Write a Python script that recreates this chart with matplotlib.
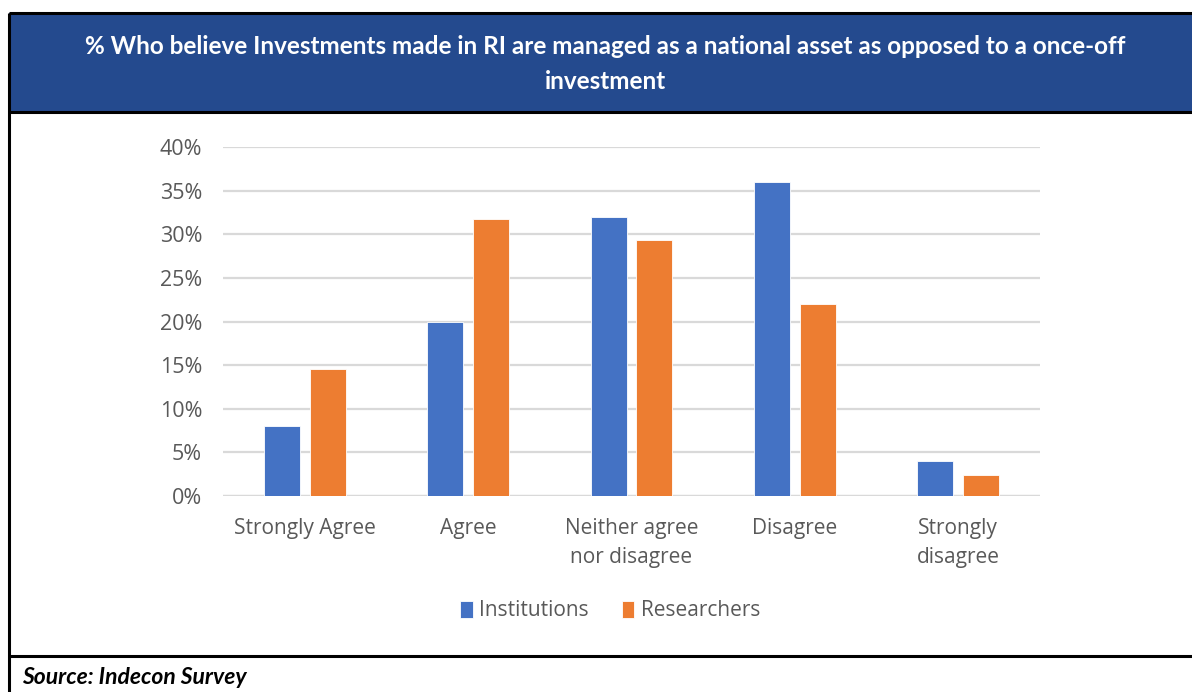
import matplotlib
matplotlib.use("Agg")
import matplotlib.pyplot as plt
import numpy as np
from matplotlib.patches import Rectangle
from matplotlib.lines import Line2D

categories = ["Strongly Agree", "Agree", "Neither agree\nnor disagree", "Disagree", "Strongly\ndisagree"]
institutions = [8.0, 20.0, 32.0, 36.0, 4.0]
researchers = [14.6, 31.7, 29.3, 22.0, 2.4]
series_names = ["Institutions", "Researchers"]
yticks = [0, 5, 10, 15, 20, 25, 30, 35, 40]
title = "% Who believe Investments made in RI are managed as a national asset as opposed to a once-off\ninvestment"
source = "Source: Indecon Survey"

BLUE = "#4472C4"
ORANGE = "#ED7D31"
HEADER = "#244A8E"
TXT = "#595959"

W, H = 1192, 692
fig = plt.figure(figsize=(W / 100, H / 100), dpi=100)

def fx(x): return x / W
def fy(y): return 1 - y / H

# header box
fig.patches.append(Rectangle((fx(9), fy(112)), 1 - fx(9), fy(13) - fy(112),
                             transform=fig.transFigure, facecolor=HEADER, edgecolor="none", zorder=0))
# frame lines
for (x0, y0, x1, y1) in [(9, 13, W, 13), (9, 112, W, 112), (9, 656, W, 656), (9, 13, 9, H)]:
    fig.lines.append(Line2D([fx(x0), fx(x1)], [fy(y0), fy(y1)], transform=fig.transFigure,
                            color="black", lw=2.2, solid_capstyle="butt", zorder=2))

fig.text(fx(605), fy(64), title, ha="center", va="center", color="white",
         fontsize=17.5, fontweight="bold", family="Lato", linespacing=1.6)
fig.text(fx(22), fy(678), source, ha="left", va="center", color="black",
         fontsize=16.5, fontweight="bold", style="italic", family="Lato")

ax = fig.add_axes([fx(223), fy(496), fx(1040) - fx(223), fy(147) - fy(496)])
x = np.arange(len(categories))
bw = 0.22
gap = 0.06
ax.bar(x - (bw + gap) / 2, institutions, bw, color=BLUE, label=series_names[0], zorder=3,
       edgecolor="white", linewidth=0.6)
ax.bar(x + (bw + gap) / 2, researchers, bw, color=ORANGE, label=series_names[1], zorder=3,
       edgecolor="white", linewidth=0.6)

ax.set_xlim(-0.5, len(categories) - 0.5)
ax.set_ylim(0, 40)
ax.set_yticks(yticks)
ax.set_yticklabels([f"{t}%" for t in yticks])
ax.set_xticks(x)
ax.set_xticklabels(categories, linespacing=1.5)
for s in ax.spines.values():
    s.set_visible(False)
ax.yaxis.grid(True, color="#D9D9D9", lw=1.6, zorder=0)
ax.set_axisbelow(True)
ax.tick_params(axis="both", length=0, colors=TXT)
ax.tick_params(axis="y", pad=15, labelsize=15.5)
ax.tick_params(axis="x", pad=16, labelsize=15)
for lbl in ax.get_xticklabels() + ax.get_yticklabels():
    lbl.set_family("Open Sans")
    lbl.set_color(TXT)
ax.axhline(0, color="#D9D9D9", lw=1.6, zorder=1)

leg = fig.legend(loc="center", bbox_to_anchor=(fx(610), fy(611)), ncol=2, frameon=False,
                 handlelength=0.6, handleheight=0.9, handletextpad=0.3, columnspacing=1.6,
                 prop={"family": "Open Sans", "size": 15})
for t in leg.get_texts():
    t.set_color(TXT)

fig.savefig("out.png", dpi=100)
